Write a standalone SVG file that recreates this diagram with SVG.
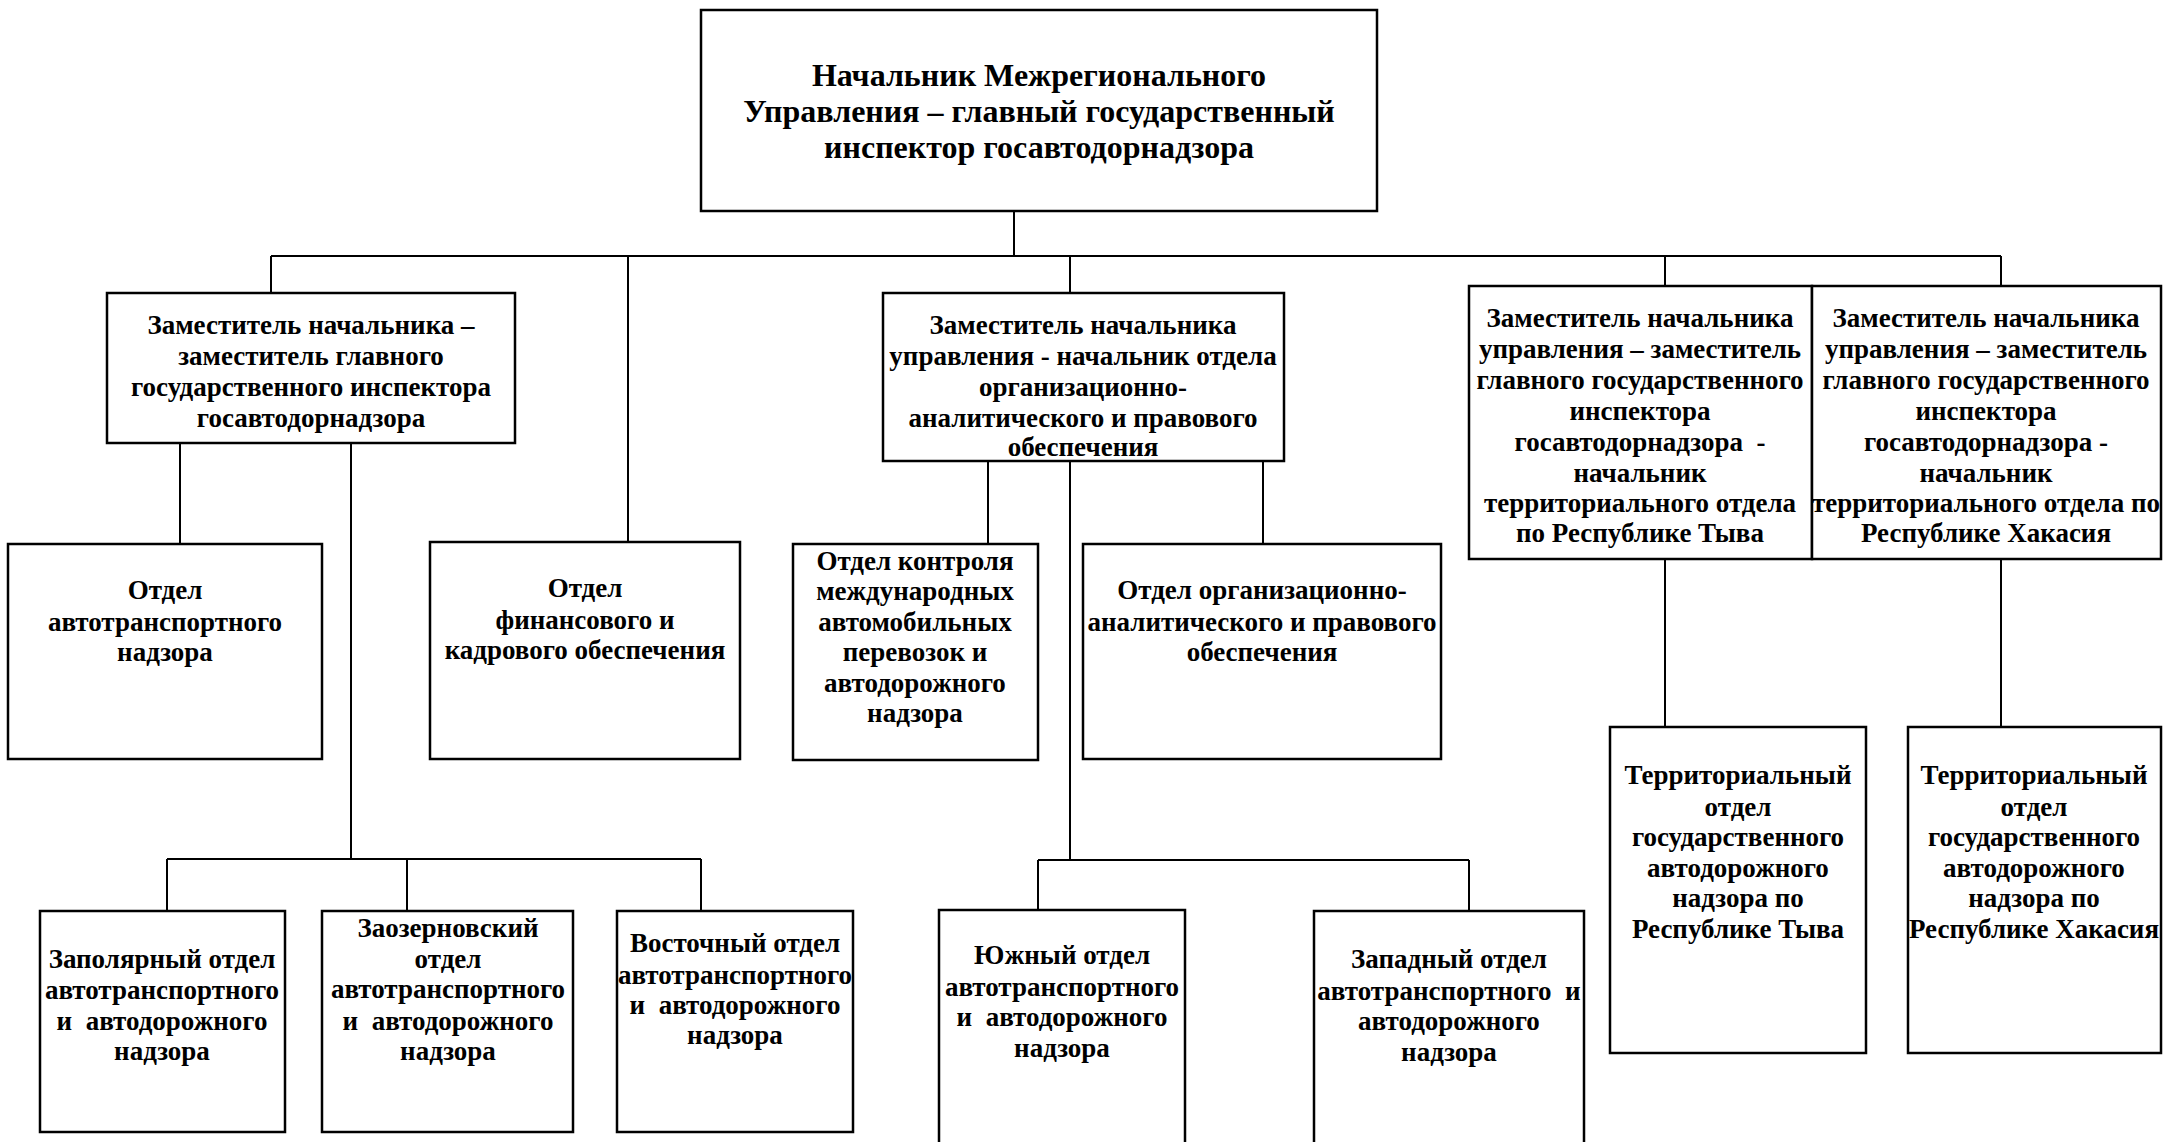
<svg xmlns="http://www.w3.org/2000/svg" width="2163" height="1142" viewBox="0 0 2163 1142">
<style>
rect{fill:#fff;stroke:#000;stroke-width:2.5}
.c line{stroke:#000;stroke-width:2;fill:none}
text{font-family:'Liberation Serif',serif;font-weight:700;font-size:27px;text-anchor:middle;fill:#000;white-space:pre}
.big{font-size:32px}
</style>
<rect x="0" y="0" width="2163" height="1142" style="fill:#fff;stroke:none"/>
<g class="c" id="connectors">
<line x1="1014" y1="211" x2="1014" y2="256"/>
<line x1="271" y1="256" x2="2001" y2="256"/>
<line x1="271" y1="256" x2="271" y2="293"/>
<line x1="628" y1="256" x2="628" y2="543"/>
<line x1="1070" y1="256" x2="1070" y2="293"/>
<line x1="1665" y1="256" x2="1665" y2="286"/>
<line x1="2001" y1="256" x2="2001" y2="286"/>
<line x1="180" y1="443" x2="180" y2="544"/>
<line x1="351" y1="443" x2="351" y2="859"/>
<line x1="167" y1="859" x2="701" y2="859"/>
<line x1="167" y1="859" x2="167" y2="911"/>
<line x1="407" y1="859" x2="407" y2="911"/>
<line x1="701" y1="859" x2="701" y2="911"/>
<line x1="988" y1="461" x2="988" y2="544"/>
<line x1="1070" y1="461" x2="1070" y2="860"/>
<line x1="1263" y1="461" x2="1263" y2="544"/>
<line x1="1038" y1="860" x2="1469" y2="860"/>
<line x1="1038" y1="860" x2="1038" y2="910"/>
<line x1="1469" y1="860" x2="1469" y2="911"/>
<line x1="1665" y1="559" x2="1665" y2="727"/>
<line x1="2001" y1="559" x2="2001" y2="727"/>
</g>
<g id="chief">
<rect x="701" y="10" width="676" height="201"/>
<text class="big" x="1039" y="86">Начальник Межрегионального</text>
<text class="big" x="1039" y="122">Управления – главный государственный</text>
<text class="big" x="1039" y="158">инспектор госавтодорнадзора</text>
</g>
<g id="deputy1">
<rect x="107" y="293" width="408" height="150"/>
<text x="311" y="334">Заместитель начальника –</text>
<text x="311" y="365">заместитель главного</text>
<text x="311" y="396">государственного инспектора</text>
<text x="311" y="427">госавтодорнадзора</text>
</g>
<g id="deputy2">
<rect x="883" y="293" width="401" height="168"/>
<text x="1083" y="334">Заместитель начальника</text>
<text x="1083" y="365">управления - начальник отдела</text>
<text x="1083" y="396">организационно-</text>
<text x="1083" y="427">аналитического и правового</text>
<text x="1083" y="456">обеспечения</text>
</g>
<g id="deputy-tyva">
<rect x="1469" y="286" width="343" height="273"/>
<text x="1640" y="327">Заместитель начальника</text>
<text x="1640" y="358">управления – заместитель</text>
<text x="1640" y="389">главного государственного</text>
<text x="1640" y="420">инспектора</text>
<text x="1640" y="451">госавтодорнадзора  -</text>
<text x="1640" y="482">начальник</text>
<text x="1640" y="512">территориального отдела</text>
<text x="1640" y="542">по Республике Тыва</text>
</g>
<g id="deputy-khakasia">
<rect x="1812" y="286" width="349" height="273"/>
<text x="1986" y="327">Заместитель начальника</text>
<text x="1986" y="358">управления – заместитель</text>
<text x="1986" y="389">главного государственного</text>
<text x="1986" y="420">инспектора</text>
<text x="1986" y="451">госавтодорнадзора -</text>
<text x="1986" y="482">начальник</text>
<text x="1986" y="512">территориального отдела по</text>
<text x="1986" y="542">Республике Хакасия</text>
</g>
<g id="dept-autotransport">
<rect x="8" y="544" width="314" height="215"/>
<text x="165" y="599">Отдел</text>
<text x="165" y="631">автотранспортного</text>
<text x="165" y="661">надзора</text>
</g>
<g id="dept-finance">
<rect x="430" y="542" width="310" height="217"/>
<text x="585" y="597">Отдел</text>
<text x="585" y="629">финансового и</text>
<text x="585" y="659">кадрового обеспечения</text>
</g>
<g id="dept-international">
<rect x="793" y="544" width="245" height="216"/>
<text x="915" y="570">Отдел контроля</text>
<text x="915" y="600">международных</text>
<text x="915" y="631">автомобильных</text>
<text x="915" y="661">перевозок и</text>
<text x="915" y="692">автодорожного</text>
<text x="915" y="722">надзора</text>
</g>
<g id="dept-org">
<rect x="1083" y="544" width="358" height="215"/>
<text x="1262" y="599">Отдел организационно-</text>
<text x="1262" y="631">аналитического и правового</text>
<text x="1262" y="661">обеспечения</text>
</g>
<g id="dept-zapolyarny">
<rect x="40" y="911" width="245" height="221"/>
<text x="162" y="968">Заполярный отдел</text>
<text x="162" y="999">автотранспортного</text>
<text x="162" y="1030">и  автодорожного</text>
<text x="162" y="1060">надзора</text>
</g>
<g id="dept-zaozernovsky">
<rect x="322" y="911" width="251" height="221"/>
<text x="448" y="937">Заозерновский</text>
<text x="448" y="968">отдел</text>
<text x="448" y="998">автотранспортного</text>
<text x="448" y="1030">и  автодорожного</text>
<text x="448" y="1060">надзора</text>
</g>
<g id="dept-vostochny">
<rect x="617" y="911" width="236" height="221"/>
<text x="735" y="952">Восточный отдел</text>
<text x="735" y="984">автотранспортного</text>
<text x="735" y="1014">и  автодорожного</text>
<text x="735" y="1044">надзора</text>
</g>
<g id="dept-yuzhny">
<rect x="939" y="910" width="246" height="250"/>
<text x="1062" y="964">Южный отдел</text>
<text x="1062" y="996">автотранспортного</text>
<text x="1062" y="1026">и  автодорожного</text>
<text x="1062" y="1057">надзора</text>
</g>
<g id="dept-zapadny">
<rect x="1314" y="911" width="270" height="250"/>
<text x="1449" y="968">Западный отдел</text>
<text x="1449" y="1000">автотранспортного  и</text>
<text x="1449" y="1030">автодорожного</text>
<text x="1449" y="1061">надзора</text>
</g>
<g id="terr-tyva">
<rect x="1610" y="727" width="256" height="326"/>
<text x="1738" y="784">Территориальный</text>
<text x="1738" y="816">отдел</text>
<text x="1738" y="846">государственного</text>
<text x="1738" y="877">автодорожного</text>
<text x="1738" y="907">надзора по</text>
<text x="1738" y="938">Республике Тыва</text>
</g>
<g id="terr-khakasia">
<rect x="1908" y="727" width="253" height="326"/>
<text x="2034" y="784">Территориальный</text>
<text x="2034" y="816">отдел</text>
<text x="2034" y="846">государственного</text>
<text x="2034" y="877">автодорожного</text>
<text x="2034" y="907">надзора по</text>
<text x="2034" y="938">Республике Хакасия</text>
</g>
</svg>
